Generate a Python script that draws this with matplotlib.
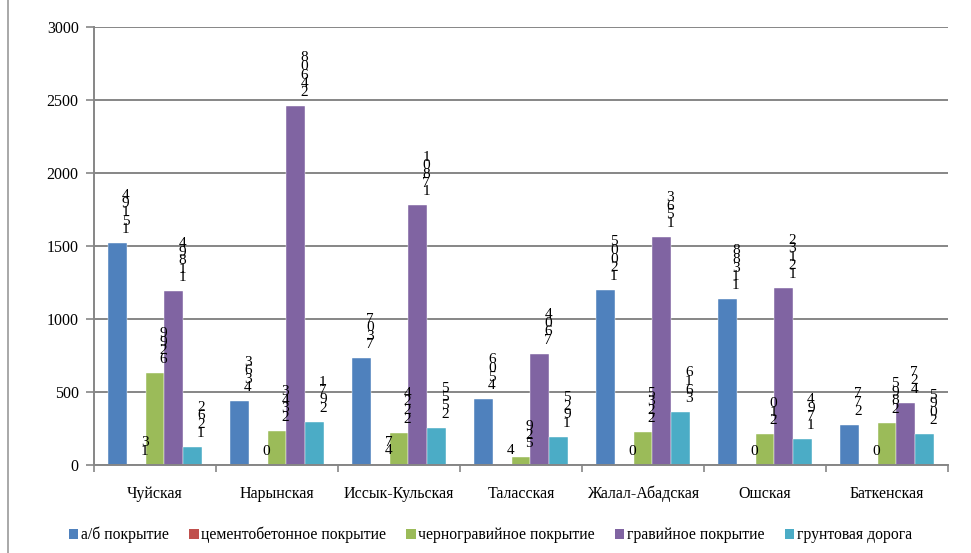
import numpy as np
import matplotlib
matplotlib.use("Agg")
import matplotlib.pyplot as plt
from matplotlib.lines import Line2D
from matplotlib.patches import Patch

plt.rcParams["font.family"] = ["Liberation Serif", "DejaVu Serif"]

regions = ["Чуйская", "Нарынская", "Иссык-Кульская", "Таласская",
           "Жалал-Абадская", "Ошская", "Баткенская"]
series_names = ["а/б покрытие", "цементобетонное покрытие",
                "черногравийное покрытие", "гравийное покрытие",
                "грунтовая дорога"]
asphalt = [1519.4, 436.3, 730.7, 450.6, 1200.5, 1138.8, 277]
cement = [1.3, 0, 4.7, 4, 0, 0, 0]
black_gravel = [629.9, 234.3, 222.4, 52.9, 223.5, 210, 289.5]
gravel = [1189.4, 2460.8, 1780.1, 760.4, 1563, 1213.2, 427]
dirt = [126.2, 297.1, 255.5, 192.5, 361.6, 179.4, 209.5]
colors = ["#4F81BD", "#C0504D", "#9BBB59", "#8064A2", "#4BACC6"]
yticks = [0, 500, 1000, 1500, 2000, 2500, 3000]


def stacked_label(v):
    # labels in the source are rotated text drawn glyph by glyph, decimal
    # comma lost: read bottom-up, so reverse the digits and stack them
    s = f"{v:g}".replace(".", "")
    return "\n".join(reversed(s))


fig = plt.figure(figsize=(9.71, 5.53), dpi=100)
ax = fig.add_axes([94 / 971, 1 - 465 / 553, (948 - 94) / 971, (465 - 27) / 553])

data = [asphalt, cement, black_gravel, gravel, dirt]
x = np.arange(len(regions))
w = 0.154
for i, (vals, col) in enumerate(zip(data, colors)):
    pos = x + (i - 2) * w
    ax.bar(pos, vals, width=w, color=col, edgecolor="white", linewidth=0.3,
           zorder=2)
    for xp, v in zip(pos, vals):
        ax.annotate(stacked_label(v), (xp, v), xytext=(6, 5),
                    textcoords="offset points", ha="center", va="bottom",
                    fontsize=11, linespacing=0.56, zorder=3)

ax.set_xlim(-0.5, len(regions) - 0.5)
ax.set_ylim(0, 3000)
ax.set_yticks(yticks)
ax.set_yticklabels([str(t) for t in yticks], fontsize=11.5)
ax.yaxis.grid(True, color="#868686", linewidth=1.4, zorder=0)
ax.set_axisbelow(True)

ax.set_xticks(np.arange(len(regions) + 1) - 0.5)
ax.set_xticklabels([])
ax.set_xticks(x, minor=True)
ax.set_xticklabels(regions, minor=True, fontsize=11.5)
ax.tick_params(axis="x", which="minor", length=0, pad=15)
ax.tick_params(axis="x", which="major", length=5, color="#868686", width=1.2)
ax.tick_params(axis="y", length=6, color="#868686", width=1.2, pad=5)

for side in ["top", "right"]:
    ax.spines[side].set_visible(False)
for side in ["left", "bottom"]:
    ax.spines[side].set_color("#868686")
    ax.spines[side].set_linewidth(1.4)

handles = [Patch(facecolor=c, edgecolor="none") for c in colors]
fig.legend(handles, series_names, loc="center", ncol=5,
           bbox_to_anchor=(0.505, 1 - 535 / 553), frameon=False,
           fontsize=11.3, handlelength=0.6, handleheight=0.6,
           handletextpad=0.15, columnspacing=1.3)

fig.add_artist(Line2D([8 / 971, 8 / 971], [0, 1], color="#9a9a9a",
                      linewidth=1.2, transform=fig.transFigure))

fig.savefig("out.png", dpi=100)
